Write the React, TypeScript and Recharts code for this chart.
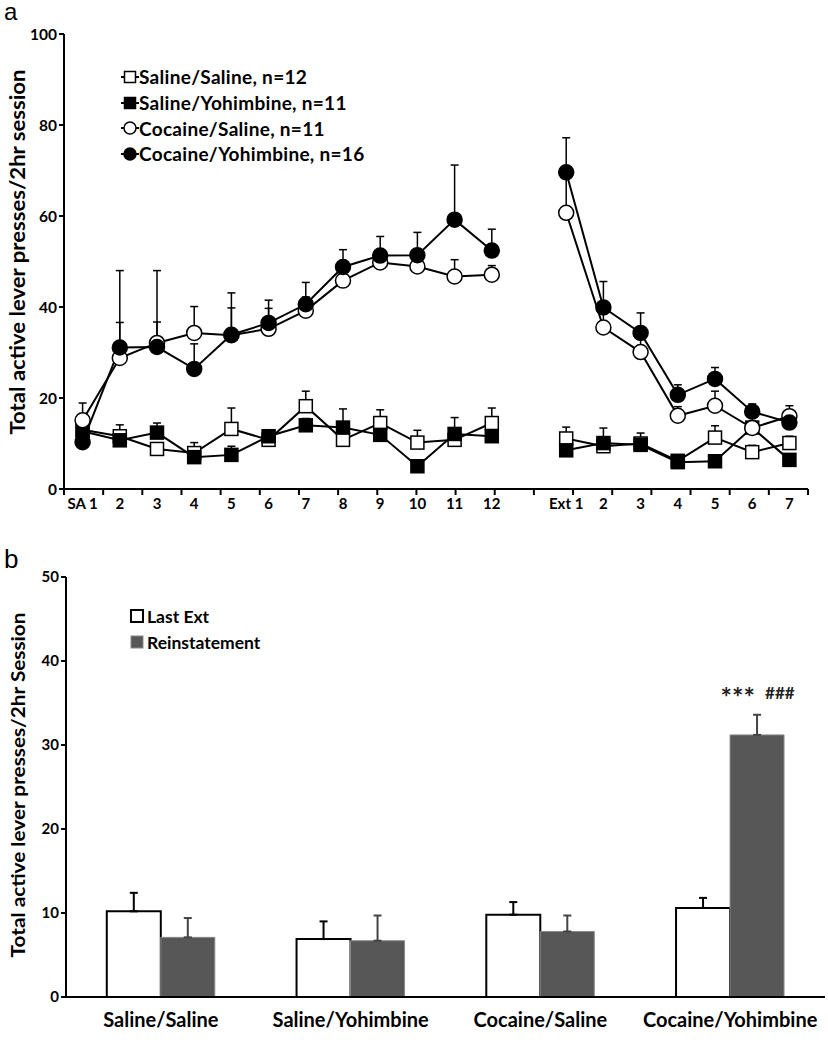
import React from "react";
import {
  ComposedChart, Line, ErrorBar, XAxis, YAxis, Legend,
  BarChart, Bar, LabelList,
} from "recharts";

// ── Panel a: sessions (SA 1–12, gap, Ext 1–7) ───────────────────────────────
const sessionLabels = ["SA 1", "2", "3", "4", "5", "6", "7", "8", "9", "10", "11", "12", "", "Ext 1", "2", "3", "4", "5", "6", "7"];

const salSal = [13.0, 11.6, 8.8, 7.9, 13.2, 10.8, 18.2, 10.8, 14.5, 10.2, 10.8, 14.5, null, 11.1, 9.4, 10.0, 6.2, 11.3, 8.1, 10.1];
const salSalErr = [1.5, 2.5, 1.2, 2.3, 4.6, 1.2, 3.3, 1.0, 2.9, 2.7, 1.5, 3.3, null, 2.5, 1.0, 2.3, 1.3, 2.6, 1.5, 1.5];
const salYoh = [12.7, 10.7, 12.4, 7.0, 7.5, 11.6, 14.0, 13.5, 11.9, 5.0, 12.1, 11.6, null, 8.5, 10.1, 9.7, 5.9, 6.1, 13.5, 6.4];
const salYohErr = [1.5, 1.5, 2.1, 1.0, 1.9, 1.4, 1.5, 4.1, 1.5, 1.4, 3.6, 1.5, null, 1.0, 3.3, 1.0, 1.0, 1.0, 1.0, 1.0];
const cocSal = [15.1, 28.8, 32.1, 34.3, 33.8, 35.2, 39.2, 45.8, 49.8, 48.9, 46.7, 47.1, null, 60.7, 35.5, 30.1, 16.1, 18.3, 13.4, 16.0];
const cocSalErr = [3.8, 7.8, 15.9, 5.8, 6.0, 4.5, 3.0, 2.5, 2.0, 2.0, 3.7, 2.0, null, 8.0, 3.0, 3.0, 2.0, 3.2, 1.5, 2.3];
const cocYoh = [10.3, 31.1, 31.2, 26.4, 33.9, 36.5, 40.6, 48.8, 51.3, 51.4, 59.2, 52.4, null, 69.6, 39.9, 34.3, 20.7, 24.2, 17.0, 14.6];
const cocYohErr = [1.0, 16.9, 5.5, 5.5, 9.2, 5.0, 4.8, 3.8, 4.2, 5.0, 12.0, 4.7, null, 7.6, 5.7, 4.4, 2.2, 2.5, 1.7, 1.0];

const upOnly = (e: number | null) => (e == null ? null : [0, e]);

const sessionData = sessionLabels.map((label, i) => ({
  x: i + 0.5,
  label,
  ss: salSal[i], ssErr: upOnly(salSalErr[i]),
  sy: salYoh[i], syErr: upOnly(salYohErr[i]),
  cs: cocSal[i], csErr: upOnly(cocSalErr[i]),
  cy: cocYoh[i], cyErr: upOnly(cocYohErr[i]),
}));

// tick marks sit on the band edges, labels on the band centres
const edgeTicks = Array.from({ length: 21 }, (_, i) => i);
const centerTicks = sessionLabels.map((_, i) => i + 0.5);

// ── Panel b: reinstatement ──────────────────────────────────────────────────
const groups = ["Saline/Saline", "Saline/Yohimbine", "Cocaine/Saline", "Cocaine/Yohimbine"];
const lastExt = [10.2, 6.9, 9.8, 10.6];
const lastExtErr = [2.2, 2.1, 1.5, 1.2];
const reinst = [7.1, 6.7, 7.8, 31.2];
const reinstErr = [2.3, 3.0, 1.9, 2.4];
const notes = ["", "", "", "*** ###"];

const barData = groups.map((g, i) => ({
  group: g,
  last: lastExt[i], lastErr: [0, lastExtErr[i]],
  reinst: reinst[i], reinstErr: [0, reinstErr[i]],
  note: notes[i],
}));

const FONT = "Lato, 'Open Sans', sans-serif";
const GREY = "#575757";

function SessionTick(props: any) {
  const { x, y, payload } = props;
  return (
    <text x={x} y={y} dy={11} textAnchor="middle" fontFamily={FONT} fontWeight={700} fontSize={15} fill="#000">
      {sessionLabels[Math.floor(payload.value)]}
    </text>
  );
}

function NoTick() {
  return <g />;
}

function YTitle(props: any) {
  const { value, cx, cy, size, len } = props;
  return (
    <text x={cx} y={cy} transform={`rotate(-90, ${cx}, ${cy})`} textAnchor="middle" dominantBaseline="central"
      fontFamily={FONT} fontWeight={700} fontSize={size} fill="#000" textLength={len} lengthAdjust="spacingAndGlyphs">
      {value}
    </text>
  );
}

function squareDot(fill: string) {
  return (p: any) => {
    if (p.cy == null || p.value == null) return <g key={p.index} />;
    return <rect key={p.index} x={p.cx - 6.5} y={p.cy - 6.5} width={13} height={13} fill={fill} stroke="#000" strokeWidth={1.5} />;
  };
}

const legendItems = [
  { name: "Saline/Saline, n=12", shape: "square", fill: "#fff" },
  { name: "Saline/Yohimbine, n=11", shape: "square", fill: "#000" },
  { name: "Cocaine/Saline, n=11", shape: "circle", fill: "#fff" },
  { name: "Cocaine/Yohimbine, n=16", shape: "circle", fill: "#000" },
];

function SessionLegend() {
  return (
    <div style={{ fontFamily: FONT, fontWeight: 700, fontSize: 19, letterSpacing: 0.3 }}>
      {legendItems.map((it) => (
        <div key={it.name} style={{ display: "flex", alignItems: "center", height: 25.7, whiteSpace: "nowrap" }}>
          <svg width={18} height={16} style={{ marginRight: 0, flex: "none" }}>
            <line x1={0} x2={18} y1={8} y2={8} stroke="#000" strokeWidth={2} />
            {it.shape === "square"
              ? <rect x={3.5} y={2.5} width={11} height={11} fill={it.fill} stroke="#000" strokeWidth={1.5} />
              : <circle cx={9} cy={8} r={6} fill={it.fill} stroke="#000" strokeWidth={1.5} />}
          </svg>
          <span>{it.name}</span>
        </div>
      ))}
    </div>
  );
}

function BarLegend() {
  return (
    <div style={{ fontFamily: FONT, fontWeight: 700, fontSize: 17.5, whiteSpace: "nowrap" }}>
      <div style={{ display: "flex", alignItems: "center", height: 26 }}>
        <svg width={14} height={14} style={{ marginRight: 3, flex: "none" }}>
          <rect x={1} y={1} width={12} height={12} fill="#fff" stroke="#000" strokeWidth={2} />
        </svg>
        <span>Last Ext</span>
      </div>
      <div style={{ display: "flex", alignItems: "center", height: 26 }}>
        <svg width={14} height={14} style={{ marginRight: 3, flex: "none" }}>
          <rect x={1} y={1} width={12} height={12} fill={GREY} stroke="#888" strokeWidth={1} />
        </svg>
        <span>Reinstatement</span>
      </div>
    </div>
  );
}

function NoteLabel(props: any) {
  const { x, y, width, value } = props;
  if (!value) return null;
  const [stars, hashes] = String(value).split(" ");
  const cx = x + width / 2;
  return (
    <g fontFamily={FONT} fontWeight={700} fill="#222">
      <text x={cx - 2} y={y - 28} textAnchor="end" fontSize={27}>{stars}</text>
      <text x={cx + 8} y={y - 36} textAnchor="start" fontSize={17}>{hashes}</text>
    </g>
  );
}

const tickStyle = { fontFamily: FONT, fontWeight: 700, fontSize: 15.5, fill: "#000" };

export default function App() {
  return (
    <div style={{ position: "absolute", left: 0, top: 0, width: 828, height: 1050, background: "#fff" }}>
      <div style={{ position: "absolute", left: 4, top: 0, lineHeight: 1, fontFamily: "'Liberation Sans', Arial, sans-serif", fontSize: 24 }}>a</div>
      <div style={{ position: "absolute", left: 4, top: 546, lineHeight: 1, fontFamily: "'Liberation Sans', Arial, sans-serif", fontSize: 26 }}>b</div>

      {/* a: active lever presses per session */}
      <div style={{ position: "absolute", left: 0, top: 0 }}>
        <ComposedChart width={828} height={525} data={sessionData} margin={{ top: 34, right: 20, bottom: 6, left: 0 }}>
          <XAxis xAxisId="edge" type="number" domain={[0, 20]} ticks={edgeTicks} interval={0} tick={<NoTick />}
            tickSize={6} height={1} tickLine={{ stroke: "#000", strokeWidth: 2 }}
            axisLine={{ stroke: "#000", strokeWidth: 2 }} />
          <XAxis xAxisId="lab" type="number" dataKey="x" domain={[0, 20]} ticks={centerTicks} interval={0}
            tick={<SessionTick />} tickLine={false} axisLine={false} tickSize={5} tickMargin={3} height={29} />
          <YAxis domain={[0, 100]} ticks={[0, 20, 40, 60, 80, 100]} width={64} tick={tickStyle}
            tickSize={5} tickLine={{ stroke: "#000", strokeWidth: 2 }} axisLine={{ stroke: "#000", strokeWidth: 2 }}
            label={<YTitle value="Total active lever presses/2hr session" cx={17} cy={252} size={20} len={365} />} />
          <Legend layout="horizontal" verticalAlign="middle" align="center"
            wrapperStyle={{ left: 121, top: 64, width: 300 }} content={<SessionLegend />} />
          <Line xAxisId="lab" dataKey="ss" type="linear" stroke="#000" strokeWidth={2} dot={squareDot("#fff")} isAnimationActive={false}>
            <ErrorBar dataKey="ssErr" direction="y" width={4} stroke="#000" strokeWidth={1.5} />
          </Line>
          <Line xAxisId="lab" dataKey="sy" type="linear" stroke="#000" strokeWidth={2} dot={squareDot("#000")} isAnimationActive={false}>
            <ErrorBar dataKey="syErr" direction="y" width={4} stroke="#000" strokeWidth={1.5} />
          </Line>
          <Line xAxisId="lab" dataKey="cs" type="linear" stroke="#000" strokeWidth={2}
            dot={{ r: 7.5, fill: "#fff", stroke: "#000", strokeWidth: 1.5 }} isAnimationActive={false}>
            <ErrorBar dataKey="csErr" direction="y" width={4} stroke="#000" strokeWidth={1.5} />
          </Line>
          <Line xAxisId="lab" dataKey="cy" type="linear" stroke="#000" strokeWidth={2}
            dot={{ r: 7.5, fill: "#000", stroke: "#000", strokeWidth: 1.5 }} isAnimationActive={false}>
            <ErrorBar dataKey="cyErr" direction="y" width={4} stroke="#000" strokeWidth={1.5} />
          </Line>
        </ComposedChart>
      </div>

      {/* b: last extinction vs reinstatement */}
      <div style={{ position: "absolute", left: 0, top: 541 }}>
        <BarChart width={828} height={510} data={barData} barGap={0} barCategoryGap="21.5%"
          margin={{ top: 36, right: 3, bottom: 14, left: 0 }}>
          <XAxis dataKey="group" tickLine={false} tickMargin={10} height={40} interval={0}
            tick={{ fontFamily: FONT, fontWeight: 700, fontSize: 20, fill: "#000" }}
            axisLine={{ stroke: "#000", strokeWidth: 2 }} />
          <YAxis domain={[0, 50]} ticks={[0, 10, 20, 30, 40, 50]} width={66} tick={{ ...tickStyle, fontSize: 15 }}
            tickSize={5} tickLine={{ stroke: "#000", strokeWidth: 2 }} axisLine={{ stroke: "#000", strokeWidth: 2 }}
            label={<YTitle value="Total active lever presses/2hr Session" cx={17} cy={244} size={19} len={345} />} />
          <Legend layout="horizontal" verticalAlign="middle" align="center"
            wrapperStyle={{ left: 130, top: 62, width: 220 }} content={<BarLegend />} />
          <Bar dataKey="last" fill="#fff" stroke="#000" strokeWidth={2} isAnimationActive={false}>
            <ErrorBar dataKey="lastErr" direction="y" width={4} stroke="#000" strokeWidth={2} />
          </Bar>
          <Bar dataKey="reinst" fill={GREY} stroke="#8a8a8a" strokeWidth={1} isAnimationActive={false}>
            <ErrorBar dataKey="reinstErr" direction="y" width={4} stroke="#444" strokeWidth={2} />
            <LabelList dataKey="note" content={<NoteLabel />} />
          </Bar>
        </BarChart>
      </div>
    </div>
  );
}
